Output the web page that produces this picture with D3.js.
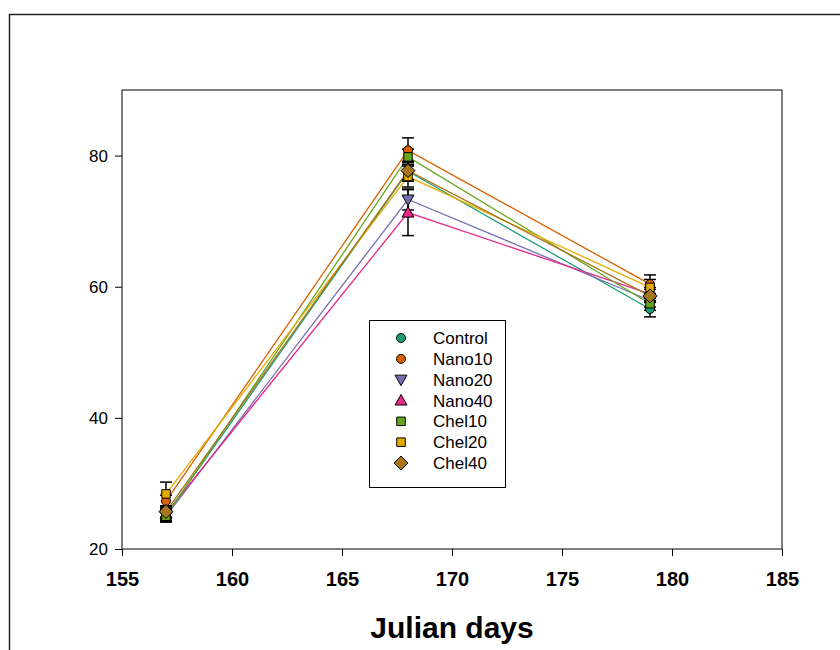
<!DOCTYPE html>
<html>
<head>
<meta charset="utf-8">
<script src="https://cdn.jsdelivr.net/npm/d3@7"></script>
<style>
  body { margin: 0; background: #fff; }
  svg { display: block; font-family: "Liberation Sans", Arial, sans-serif; }
</style>
</head>
<body>
<div id="chart"></div>
<script>
// Data
const days = [157, 168, 179];
const seriesNames = ["Control", "Nano10", "Nano20", "Nano40", "Chel10", "Chel20", "Chel40"];

const control = [25.2, 77.6, 56.6];
const nano10 = [27.3, 80.8, 60.4];
const nano20 = [25.0, 73.3, 57.9];
const nano40 = [25.4, 71.3, 58.9];
const chel10 = [25.0, 79.8, 57.4];
const chel20 = [28.4, 76.8, 59.9];
const chel40 = [25.7, 77.7, 58.6];

const controlErr = [0.8, 1.5, 1.2];
const nano10Err = [0.9, 1.9, 1.4];
const nano20Err = [0.9, 1.6, 1.0];
const nano40Err = [0.8, 3.5, 1.0];
const chel10Err = [0.8, 1.2, 1.0];
const chel20Err = [1.8, 1.6, 1.2];
const chel40Err = [0.9, 1.4, 1.0];

const xTicks = [155, 160, 165, 170, 175, 180, 185];
const yTicks = [20, 40, 60, 80];

const colors = ["#1b9e77", "#d95f02", "#7570b3", "#e7298a", "#66a61e", "#e6ab02", "#a6761d"];
const shapes = ["circle", "circle", "triDown", "triUp", "square", "square", "diamond"];

const values = [control, nano10, nano20, nano40, chel10, chel20, chel40];
const errors = [controlErr, nano10Err, nano20Err, nano40Err, chel10Err, chel20Err, chel40Err];

const series = seriesNames.map((name, i) => ({
  name: name,
  color: colors[i],
  shape: shapes[i],
  points: days.map((d, j) => ({ day: d, value: values[i][j], err: errors[i][j] }))
}));

const W = 840, H = 650;
const plot = { left: 122, right: 782, top: 90, bottom: 549 };

const svg = d3.select("#chart").append("svg")
  .attr("width", W)
  .attr("height", H);

// outer frame
svg.append("rect")
  .attr("x", 9.5).attr("y", 14.5)
  .attr("width", 860).attr("height", 700)
  .attr("fill", "none")
  .attr("stroke", "#222")
  .attr("stroke-width", 1.5);

const x = d3.scaleLinear().domain([155, 185]).range([plot.left, plot.right]);
const y = d3.scaleLinear().domain([20, 90]).range([plot.bottom, plot.top]);

// plot frame
svg.append("rect")
  .attr("x", plot.left).attr("y", plot.top)
  .attr("width", plot.right - plot.left)
  .attr("height", plot.bottom - plot.top)
  .attr("fill", "none")
  .attr("stroke", "#000")
  .attr("stroke-width", 1);

// x axis
const xAxis = svg.append("g")
  .attr("transform", `translate(0,${plot.bottom})`)
  .call(d3.axisBottom(x).tickValues(xTicks).tickSize(7).tickPadding(16).tickSizeOuter(0));
xAxis.select(".domain").remove();
xAxis.selectAll("text")
  .attr("font-size", 20)
  .attr("font-weight", "bold")
  .attr("font-family", "Liberation Sans, Arial, sans-serif")
  .attr("fill", "#000");

// y axis
const yAxis = svg.append("g")
  .attr("transform", `translate(${plot.left},0)`)
  .call(d3.axisLeft(y).tickValues(yTicks).tickSize(7).tickPadding(7).tickSizeOuter(0));
yAxis.select(".domain").remove();
yAxis.selectAll("text")
  .attr("font-size", 17)
  .attr("font-family", "Liberation Sans, Arial, sans-serif")
  .attr("fill", "#000");

// x axis title
svg.append("text")
  .attr("x", 452)
  .attr("y", 638)
  .attr("text-anchor", "middle")
  .attr("font-size", 30)
  .attr("font-weight", "bold")
  .text("Julian days");

// lines
const line = d3.line().x(d => x(d.day)).y(d => y(d.value));
svg.append("g").selectAll("path")
  .data(series)
  .join("path")
  .attr("d", d => line(d.points))
  .attr("fill", "none")
  .attr("stroke", d => d.color)
  .attr("stroke-width", 1.3);

// error bars
const capW = 6;
const eb = svg.append("g").attr("stroke", "#000").attr("stroke-width", 1.5);
series.forEach(s => {
  s.points.forEach(p => {
    const cx = x(p.day);
    const y1 = y(p.value + p.err), y2 = y(p.value - p.err);
    eb.append("line").attr("x1", cx).attr("x2", cx).attr("y1", y1).attr("y2", y2);
    eb.append("line").attr("x1", cx - capW).attr("x2", cx + capW).attr("y1", y1).attr("y2", y1);
    eb.append("line").attr("x1", cx - capW).attr("x2", cx + capW).attr("y1", y2).attr("y2", y2);
  });
});

function markerPath(shape) {
  if (shape === "circle") return d3.symbol(d3.symbolCircle, 64)();
  if (shape === "square") return d3.symbol(d3.symbolSquare, 72)();
  if (shape === "diamond") return "M0,-7L7,0L0,7L-7,0Z";
  if (shape === "triUp") return "M0,-6L6,4.5L-6,4.5Z";
  return "M0,6L6,-4.5L-6,-4.5Z";
}

// markers
series.forEach(s => {
  svg.append("g").selectAll("path")
    .data(s.points)
    .join("path")
    .attr("transform", d => `translate(${x(d.day)},${y(d.value)})`)
    .attr("d", markerPath(s.shape))
    .attr("fill", s.color)
    .attr("stroke", "#000")
    .attr("stroke-width", 1);
});

// legend
const legend = svg.append("g");
legend.append("rect")
  .attr("x", 369.5).attr("y", 320.5)
  .attr("width", 136).attr("height", 167)
  .attr("fill", "#fff")
  .attr("stroke", "#000")
  .attr("stroke-width", 1);

const legendY = d3.scalePoint().domain(seriesNames).range([338, 463]);
series.forEach(s => {
  const ly = legendY(s.name);
  legend.append("path")
    .attr("transform", `translate(401,${ly})`)
    .attr("d", markerPath(s.shape))
    .attr("fill", s.color)
    .attr("stroke", "#000")
    .attr("stroke-width", 1);
  legend.append("text")
    .attr("x", 433)
    .attr("y", ly + 6)
    .attr("font-size", 17)
    .text(s.name);
});
</script>
</body>
</html>
